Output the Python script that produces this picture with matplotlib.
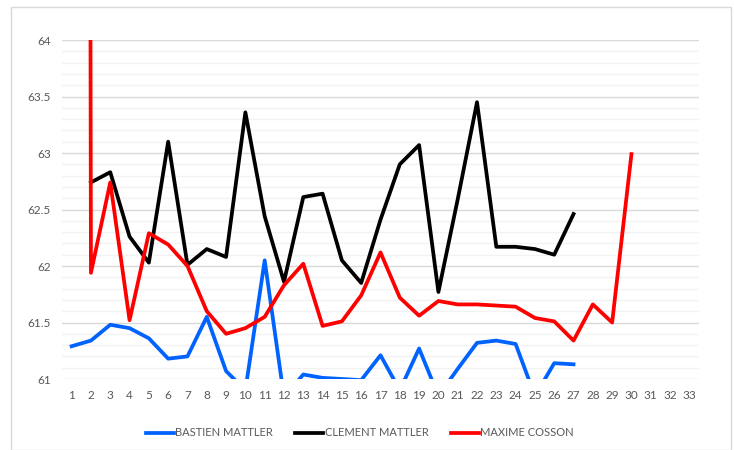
import numpy as np
import matplotlib
matplotlib.use("Agg")
import matplotlib.pyplot as plt
from matplotlib.patches import Rectangle

plt.rcParams['font.family'] = ['Lato', 'DejaVu Sans']

rounds = list(range(1, 34))
bastien = [61.29, 61.34, 61.48, 61.45, 61.36, 61.18, 61.20, 61.55, 61.07, 60.90,
           62.05, 60.84, 61.04, 61.01, 61.00, 60.99, 61.21, 60.90, 61.27, 60.85,
           61.09, 61.32, 61.34, 61.31, 60.85, 61.14, 61.13]
clement = [np.nan, 62.74, 62.83, 62.26, 62.03, 63.10, 62.01, 62.15, 62.08, 63.36,
           62.44, 61.86, 62.61, 62.64, 62.05, 61.85, 62.41, 62.90, 63.07, 61.77,
           62.59, 63.45, 62.17, 62.17, 62.15, 62.10, 62.46]
maxime = [150.0, 61.94, 62.74, 61.52, 62.29, 62.19, 62.00, 61.60, 61.40, 61.45,
          61.55, 61.83, 62.02, 61.47, 61.51, 61.74, 62.12, 61.72, 61.56, 61.69,
          61.66, 61.66, 61.65, 61.64, 61.54, 61.51, 61.34, 61.66, 61.50, 62.99]

fig = plt.figure(figsize=(7.34, 4.5), dpi=100)
fig.patches.append(Rectangle((11 / 734, 0), 720 / 734, 443 / 450, transform=fig.transFigure,
                             fill=False, edgecolor='#d9d9d9', linewidth=1))
ax = fig.add_axes([62 / 734, 1 - 379 / 450, 637 / 734, 339 / 450])

x = np.arange(len(rounds))
ax.plot(x[:len(bastien)], bastien, color='#0062FF', lw=2.7, label='BASTIEN MATTLER')
ax.plot(x[:len(clement)], clement, color='black', lw=2.7, label='CLEMENT MATTLER')
ax.plot(x[:len(maxime)], maxime, color='#FF0000', lw=2.7, label='MAXIME COSSON')

ax.set_xlim(-0.5, len(rounds) - 0.5)
ax.set_ylim(61, 64)
ax.set_xticks(x)
ax.set_xticklabels([str(r) for r in rounds])
ax.set_yticks([61, 61.5, 62, 62.5, 63, 63.5, 64])
ax.set_yticklabels(['61', '61.5', '62', '62.5', '63', '63.5', '64'])
ax.set_yticks(np.arange(61, 64.01, 0.1), minor=True)
ax.grid(axis='y', which='major', color='#d9d9d9', lw=1)
ax.grid(axis='y', which='minor', color='#f2f2f2', lw=1)
ax.set_axisbelow(True)
for s in ax.spines.values():
    s.set_visible(False)
ax.tick_params(axis='both', which='both', length=0, colors='#595959', labelsize=8.5)
ax.tick_params(axis='x', pad=8)
ax.tick_params(axis='y', pad=8)

leg = fig.legend(loc='center', bbox_to_anchor=(360 / 734, 1 - 433 / 450), ncol=3,
                 frameon=False, fontsize=8, handlelength=2.5, handletextpad=0.15,
                 columnspacing=2.0)
for t in leg.get_texts():
    t.set_color('#595959')

fig.savefig('out.png', dpi=100)
